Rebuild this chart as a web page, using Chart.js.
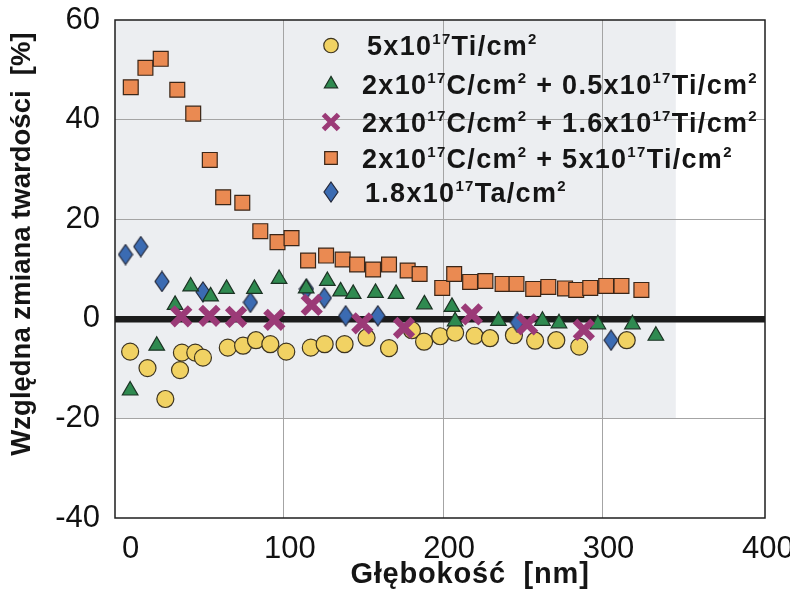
<!DOCTYPE html>
<html>
<head>
<meta charset="utf-8">
<title>Względna zmiana twardości</title>
<script src="https://cdn.jsdelivr.net/npm/chart.js@4.4.1/dist/chart.umd.min.js"></script>
<style>
  html, body { margin: 0; padding: 0; background: #fff; }
  #wrap { width: 790px; height: 592px; }
</style>
</head>
<body>
<div id="wrap"><canvas id="myGraf" width="790" height="592"></canvas></div>
<script>
// glebokosc [nm] / zmiana twardosci [%] dla kazdej serii
var glebTi5 = [3.5, 14.4, 25.6, 34.8, 36, 44.4, 49.2, 64.8, 74.4, 82.5, 91.5, 101.5, 116.9, 125.6, 138.1, 151.9, 166, 180.4, 188, 198.1, 207.5, 219.7, 229.4, 244.4, 257.7, 271, 285.4, 315.2];
var zmTi5   = [-6.6, -9.9, -16.1, -10.3, -6.8, -6.8, -7.8, -5.8, -5.4, -4.3, -5.1, -6.6, -5.8, -5.1, -5.1, -3.8, -5.9, -2.3, -4.6, -3.5, -2.8, -3.4, -3.9, -3.3, -4.4, -4.3, -5.6, -4.3];

var glebC2Ti05 = [3.5, 20.2, 31.7, 41.5, 54, 64, 81.5, 97, 114, 127.3, 135.6, 143.5, 157.5, 170.4, 188.2, 205.5, 207.5, 234.7, 262.3, 272.7, 297.1, 318.8, 333.5];
var zmC2Ti05   = [-14.4, -5.4, 2.8, 6.5, 4.5, 6, 6, 8, 6.1, 7.6, 5.5, 5, 5.2, 5, 2.9, 2.4, -0.5, -0.4, -0.4, -0.9, -1.1, -1.1, -3.4];

var glebC2Ti16 = [35.6, 53.3, 70, 94, 117.5, 149.2, 175.4, 218, 252.7, 288.3];
var zmC2Ti16   = [0.5, 0.6, 0.4, -0.2, 2.8, -0.9, -1.8, 0.9, -1.1, -2.2];

var glebC2Ti5 = [3.9, 13.1, 22.7, 33.1, 43.1, 53.5, 61.9, 73.9, 85.2, 96, 104.8, 115.2, 126.5, 136.9, 146, 156, 166, 177.7, 185.2, 199.4, 206.9, 216.9, 226.5, 237.3, 246, 256.5, 266, 276.5, 283.5, 292.3, 302.3, 311.9, 324.4];
var zmC2Ti5   = [46.5, 50.4, 52.2, 46, 41.2, 31.9, 24.4, 23.3, 17.6, 15.4, 16.2, 11.7, 12.7, 11.9, 10.9, 9.9, 10.9, 9.7, 9.0, 6.2, 9.0, 7.4, 7.6, 7.0, 7.0, 6.0, 6.4, 6.1, 5.8, 6.2, 6.6, 6.6, 5.8];

var glebTa = [0.6, 10.2, 23.5, 49.2, 79, 114.2, 125.4, 138.8, 159, 246.5, 305.4];
var zmTa   = [12.9, 14.5, 7.5, 5.4, 3.3, 6, 4.2, 0.6, 0.6, -0.7, -4.3];

// opisy serii, {..} = indeks gorny
var etykiety = [
    '5x10{17}Ti/cm{2}',
    '2x10{17}C/cm{2} + 0.5x10{17}Ti/cm{2}',
    '2x10{17}C/cm{2} + 1.6x10{17}Ti/cm{2}',
    '2x10{17}C/cm{2} + 5x10{17}Ti/cm{2}',
    '1.8x10{17}Ta/cm{2}'
];

var xTicks = [0, 100, 200, 300, 400];
var yTicks = [-40, -20, 0, 20, 40, 60];

var FONT = "'Liberation Sans', Arial, Helvetica, sans-serif";

function punkty(xs, ys) {
    return xs.map(function(x, i) { return {x: x, y: ys[i]}; });
}

// romb - wyzszy niz szerszy, wiec rysowany na osobnym canvasie
function romb(w, h, fill) {
    var c = document.createElement('canvas');
    c.width = w + 2;
    c.height = h + 2;
    var g = c.getContext('2d');
    g.beginPath();
    g.moveTo(c.width / 2, 1);
    g.lineTo(c.width - 1, c.height / 2);
    g.lineTo(c.width / 2, c.height - 1);
    g.lineTo(1, c.height / 2);
    g.closePath();
    g.fillStyle = fill;
    g.fill();
    g.strokeStyle = '#23283a';
    g.lineWidth = 1.2;
    g.stroke();
    return c;
}

var rombTa = romb(14, 20, '#3b6bb2');

var datasets = [{
    label: etykiety[0].replace(/[{}]/g, ''),
    data: punkty(glebTi5, zmTi5),
    pointStyle: 'circle',
    pointRadius: 8.5,
    backgroundColor: '#f1d263',
    borderColor: '#3d3420',
    borderWidth: 1.2,
    order: 3
}, {
    label: etykiety[1].replace(/[{}]/g, ''),
    data: punkty(glebC2Ti05, zmC2Ti05),
    pointStyle: 'triangle',
    pointRadius: 9,
    backgroundColor: '#2f8a50',
    borderColor: '#1c3324',
    borderWidth: 1.2,
    order: 1
}, {
    label: etykiety[2].replace(/[{}]/g, ''),
    data: punkty(glebC2Ti16, zmC2Ti16),
    pointStyle: 'crossRot',
    pointRadius: 12.5,
    backgroundColor: '#9b3a77',
    borderColor: '#9b3a77',
    borderWidth: 6.5,
    order: 0
}, {
    label: etykiety[3].replace(/[{}]/g, ''),
    data: punkty(glebC2Ti5, zmC2Ti5),
    pointStyle: 'rect',
    pointRadius: 10.5,
    backgroundColor: '#ea8a52',
    borderColor: '#3a2618',
    borderWidth: 1.2,
    order: 4
}, {
    label: etykiety[4].replace(/[{}]/g, ''),
    data: punkty(glebTa, zmTa),
    pointStyle: rombTa,
    pointRadius: 10,
    backgroundColor: '#3b6bb2',
    borderColor: '#23283a',
    borderWidth: 1.2,
    order: 2
}];

// szare tlo pod czescia wykresu
var tloPlugin = {
    id: 'tlo',
    beforeDraw: function(chart) {
        var ctx = chart.ctx, x = chart.scales.x, y = chart.scales.y;
        var a = chart.chartArea;
        ctx.save();
        ctx.fillStyle = '#fff';
        ctx.fillRect(0, 0, chart.width, chart.height);
        ctx.fillStyle = '#eceef1';
        var x1 = x.getPixelForValue(346);
        var y1 = y.getPixelForValue(-20);
        ctx.fillRect(a.left, a.top, x1 - a.left, y1 - a.top);
        ctx.restore();
    }
};

// ramka wokol obszaru wykresu
var ramkaPlugin = {
    id: 'ramka',
    beforeDatasetsDraw: function(chart) {
        var ctx = chart.ctx, a = chart.chartArea;
        ctx.save();
        ctx.strokeStyle = '#1e1e1e';
        ctx.lineWidth = 1.5;
        ctx.strokeRect(a.left, a.top, a.right - a.left, a.bottom - a.top);
        ctx.restore();
    }
};

// tekst z indeksami gornymi
function tekstSup(ctx, s, x, y, size, supSize) {
    var czesci = s.split(/[{}]/);
    for (var i = 0; i < czesci.length; i++) {
        if (!czesci[i]) continue;
        var sup = i % 2 === 1;
        ctx.font = 'bold ' + (sup ? supSize : size) + 'px ' + FONT;
        ctx.fillText(czesci[i], x, sup ? y - size * 0.4 : y);
        x += ctx.measureText(czesci[i]).width;
    }
}

var legendaPlugin = {
    id: 'legenda',
    afterDraw: function(chart) {
        var ctx = chart.ctx;
        var rows = [45.5, 84, 122, 158, 192];
        var tx = [367, 362, 362, 362, 365];
        ctx.save();
        ctx.fillStyle = '#151515';
        ctx.textBaseline = 'alphabetic';
        if ('letterSpacing' in ctx) ctx.letterSpacing = '1.3px';
        chart.data.datasets.forEach(function(ds, i) {
            var opts = {
                pointStyle: ds.pointStyle,
                radius: ds.pointRadius * 0.85,
                borderWidth: ds.borderWidth,
                rotation: 0
            };
            ctx.save();
            ctx.fillStyle = ds.backgroundColor;
            ctx.strokeStyle = ds.borderColor;
            ctx.lineWidth = ds.pointStyle === 'crossRot' ? 5 : ds.borderWidth;
            Chart.helpers.drawPoint(ctx, opts, 331, rows[i]);
            ctx.restore();
            tekstSup(ctx, etykiety[i], tx[i], rows[i] + 9.5, 27, 15);
        });
        ctx.restore();
    }
};

// tytuly osi
var tytulyPlugin = {
    id: 'tytuly',
    afterDraw: function(chart) {
        var ctx = chart.ctx;
        ctx.save();
        ctx.fillStyle = '#151515';
        ctx.textAlign = 'center';
        ctx.textBaseline = 'middle';
        ctx.font = 'bold 29px ' + FONT;
        if ('letterSpacing' in ctx) ctx.letterSpacing = '0.8px';
        ctx.fillText('Głębokość  [nm]', 470, 575);
        if ('letterSpacing' in ctx) ctx.letterSpacing = '0px';
        ctx.translate(22, 244);
        ctx.rotate(-Math.PI / 2);
        ctx.font = 'bold 27.5px ' + FONT;
        ctx.fillText('Względna zmiana twardości  [%]', 0, 0);
        ctx.restore();
    }
};

var ctx = document.getElementById('myGraf').getContext('2d');
var myGraf = new Chart(ctx, {
    type: 'scatter',
    data: { datasets: datasets },
    options: {
        responsive: false,
        animation: false,
        devicePixelRatio: 1,
        layout: { padding: { top: 20, right: 25, bottom: 0, left: 0 } },
        plugins: {
            legend: { display: false },
            tooltip: { enabled: false }
        },
        scales: {
            x: {
                type: 'linear',
                min: -6,
                max: 402,
                afterFit: function(s) {
                    s.height = 74;
                    s.paddingLeft = 0;
                    s.paddingRight = 0;
                },
                afterBuildTicks: function(s) {
                    s.ticks = xTicks.map(function(v) { return {value: v}; });
                },
                border: { display: false },
                grid: {
                    drawTicks: false,
                    lineWidth: 1,
                    color: function(c) {
                        var v = c.tick && c.tick.value;
                        return (v === 0 || v === 400) ? 'rgba(0,0,0,0)' : '#a4a4a4';
                    }
                },
                ticks: {
                    padding: 13,
                    labelOffset: 6,
                    color: '#111',
                    font: { family: FONT, size: 31 }
                }
            },
            y: {
                type: 'linear',
                min: -40,
                max: 60,
                afterFit: function(s) {
                    s.width = 115;
                    s.paddingTop = 0;
                    s.paddingBottom = 0;
                },
                afterBuildTicks: function(s) {
                    s.ticks = yTicks.map(function(v) { return {value: v}; });
                },
                border: { display: false },
                grid: {
                    drawTicks: false,
                    lineWidth: function(c) { return c.tick && c.tick.value === 0 ? 6.5 : 1; },
                    color: function(c) {
                        var v = c.tick && c.tick.value;
                        if (v === 0) return '#1c1c1c';
                        return (v === 60 || v === -40) ? 'rgba(0,0,0,0)' : '#a4a4a4';
                    }
                },
                ticks: {
                    padding: 15,
                    color: '#111',
                    font: { family: FONT, size: 31 }
                }
            }
        }
    },
    plugins: [tloPlugin, ramkaPlugin, legendaPlugin, tytulyPlugin]
});
</script>
</body>
</html>
